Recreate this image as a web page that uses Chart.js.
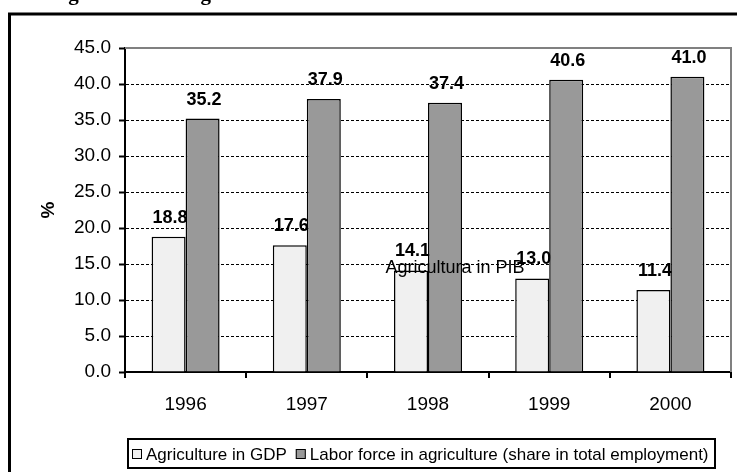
<!DOCTYPE html>
<html><head><meta charset="utf-8">
<script src="https://cdn.jsdelivr.net/npm/chart.js@4.4.0/dist/chart.umd.min.js"></script>
<style>html,body{margin:0;padding:0;background:#fff;}#wrap{width:737px;height:472px;position:relative;}canvas{display:block;}</style>
</head><body><div id="wrap"><canvas id="c" width="737" height="472"></canvas></div>
<script>
const categories = ['1996', '1997', '1998', '1999', '2000'];
const gdpShare = [18.8, 17.6, 14.1, 13.0, 11.4];
const laborShare = [35.2, 37.9, 37.4, 40.6, 41.0];
const seriesNames = ['Agriculture in GDP', 'Labor force in agriculture (share in total employment)'];
const yAxisTitle = '%';
const titleText = 'Agricultural weight';
const strayLabel = 'Agricultura in PIB';

const FONT = "'Liberation Sans', Arial, sans-serif";

const framePlugin = {
  id: 'frame',
  beforeDraw(chart) {
    const ctx = chart.ctx;
    ctx.save();
    ctx.fillStyle = '#fff';
    ctx.fillRect(0, 0, chart.width, chart.height);
    ctx.strokeStyle = '#000';
    ctx.lineWidth = 3;
    ctx.strokeRect(9.5, 14, 800, 600);
    ctx.fillStyle = '#000';
    ctx.font = "bold 21px 'Liberation Serif', 'Times New Roman', serif";
    ctx.textBaseline = 'alphabetic';
    ctx.textAlign = 'left';
    ctx.fillText(titleText, 53, 0);
    ctx.restore();
  },
  beforeDatasetsDraw(chart) {
    drawLabels(chart, 0);
  },
  afterDatasetsDraw(chart) {
    drawLabels(chart, 1);
    const ctx = chart.ctx;
    const xs = chart.scales.x, ys = chart.scales.y;
    ctx.save();
    ctx.fillStyle = '#000';
    ctx.font = '18px ' + FONT;
    ctx.textAlign = 'center';
    ctx.textBaseline = 'middle';
    ctx.fillText(strayLabel, xs.getPixelForValue(2) + 27, ys.getPixelForValue(14.4));
    ctx.restore();
  },
  afterDraw(chart) {
    const ctx = chart.ctx;
    const a = chart.chartArea;
    ctx.save();
    ctx.strokeStyle = '#808080';
    ctx.lineWidth = 2;
    ctx.beginPath();
    ctx.moveTo(a.left, a.top);
    ctx.lineTo(a.right, a.top);
    ctx.lineTo(a.right, a.bottom);
    ctx.stroke();
    const bx = 128, by = 439, bw = 587, bh = 29;
    ctx.fillStyle = '#fff';
    ctx.fillRect(bx, by, bw, bh);
    ctx.strokeStyle = '#000';
    ctx.lineWidth = 2;
    ctx.strokeRect(bx, by, bw, bh);
    ctx.font = '17px ' + FONT;
    ctx.textBaseline = 'middle';
    ctx.textAlign = 'left';
    let x = bx + 4;
    const cy = by + bh / 2 + 0.5;
    chart.data.datasets.forEach((ds) => {
      ctx.fillStyle = ds.backgroundColor;
      ctx.fillRect(x, cy - 5, 10, 10);
      ctx.lineWidth = 1;
      ctx.strokeStyle = '#000';
      ctx.strokeRect(x + 0.5, cy - 4.5, 9, 9);
      x += 14;
      ctx.fillStyle = '#000';
      ctx.fillText(ds.label, x, cy + 1);
      x += ctx.measureText(ds.label).width + 9;
    });
    ctx.restore();
  }
};

function drawLabels(chart, di) {
  const ctx = chart.ctx;
  const meta = chart.getDatasetMeta(di);
  const data = chart.data.datasets[di].data;
  ctx.save();
  ctx.fillStyle = '#000';
  ctx.font = 'bold 18px ' + FONT;
  ctx.textAlign = 'center';
  ctx.textBaseline = 'alphabetic';
  meta.data.forEach((el, i) => {
    ctx.fillText(data[i].toFixed(1), el.x + 1.5, el.y - 14);
  });
  ctx.restore();
}

new Chart(document.getElementById('c'), {
  type: 'bar',
  data: {
    labels: categories,
    datasets: [
      { label: seriesNames[0], data: gdpShare, backgroundColor: '#F0F0F0', borderColor: '#000', borderWidth: 1.5,
        categoryPercentage: 0.561, barPercentage: 1 },
      { label: seriesNames[1], data: laborShare, backgroundColor: '#999999', borderColor: '#000', borderWidth: 1.5,
        categoryPercentage: 0.561, barPercentage: 1 }
    ]
  },
  options: {
    responsive: false,
    animation: false,
    devicePixelRatio: 1,
    layout: { padding: { top: 48, right: 6, left: 0, bottom: 0 } },
    plugins: { legend: { display: false }, tooltip: { enabled: false } },
    scales: {
      x: {
        type: 'category',
        offset: true,
        afterFit(s) { s.height = 100; },
        grid: { display: true, drawOnChartArea: false, drawTicks: true, tickLength: 6, offset: true,
                color: '#000', tickColor: '#000', tickWidth: 2, lineWidth: 2 },
        border: { display: true, color: '#000', width: 2 },
        ticks: { color: '#000', font: { family: FONT, size: 19 }, padding: 15, maxRotation: 0 }
      },
      y: {
        min: 0, max: 45,
        afterFit(s) { s.width = 125; },
        ticks: { stepSize: 5, color: '#000', font: { family: FONT, size: 19 }, padding: 8,
                 callback: v => Number(v).toFixed(1) },
        grid: {
          color: ctx => (ctx.tick && ctx.tick.value === 45) ? '#808080' : (ctx.tick && ctx.tick.value === 0 ? 'rgba(0,0,0,0)' : '#000'),
          lineWidth: 1, tickLength: 6, tickColor: '#000', tickWidth: 2, tickBorderDash: []
        },
        border: { display: true, color: '#000', width: 2,
                  dash: ctx => (ctx.tick && ctx.tick.value === 45) ? [] : [3, 2] },
        title: { display: true, text: yAxisTitle, color: '#000', font: { family: FONT, size: 19, weight: 'bold' },
                 padding: { top: 37, bottom: 0 } }
      }
    }
  },
  plugins: [framePlugin]
});
</script></body></html>
